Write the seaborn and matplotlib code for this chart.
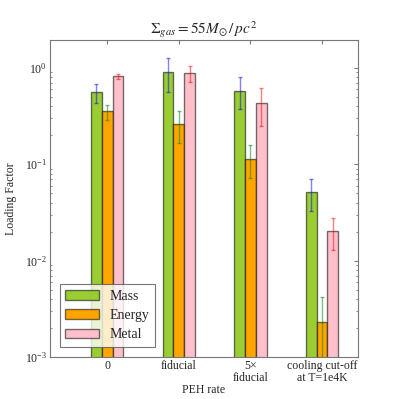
import numpy as np
import pandas as pd
import matplotlib
matplotlib.use("Agg")
import matplotlib.pyplot as plt
import seaborn as sns

# values
categories = ["0", "fiducial", "5\u00d7\nfiducial", "cooling cut-off\nat T=1e4K"]
series = ["Mass", "Energy", "Metal"]

mass = [0.56, 0.90, 0.58, 0.051]
mass_lo = [0.43, 0.56, 0.37, 0.033]
mass_hi = [0.68, 1.26, 0.80, 0.070]

energy = [0.355, 0.26, 0.114, 0.0023]
energy_lo = [0.29, 0.165, 0.072, 0.0005]
energy_hi = [0.41, 0.357, 0.158, 0.0042]

metal = [0.82, 0.88, 0.43, 0.0205]
metal_lo = [0.77, 0.72, 0.25, 0.0128]
metal_hi = [0.86, 1.04, 0.62, 0.0279]

bar_colors = ["#9acd32", "#ffa500", "#ffc0cb"]
err_colors = ["blue", "green", "red"]

sns.set_style("white")
plt.rcParams["font.family"] = ["Liberation Serif", "DejaVu Serif"]
plt.rcParams["mathtext.fontset"] = "stix"

# long-form table for seaborn
df = pd.DataFrame({
    "rate": categories * 3,
    "kind": [s for s in series for _ in categories],
    "value": mass + energy + metal,
})
lows = [mass_lo, energy_lo, metal_lo]
highs = [mass_hi, energy_hi, metal_hi]
vals = [mass, energy, metal]

fig = plt.figure(figsize=(3.99, 3.99), dpi=100)
ax = fig.add_axes([0.125, 0.105, 0.772, 0.795])
ax.set_yscale("log")

sns.barplot(data=df, x="rate", y="value", hue="kind", order=categories,
            hue_order=series, palette=bar_colors, saturation=1, width=0.45,
            errorbar=None, edgecolor=(0, 0, 0, 0.55), linewidth=1.0, ax=ax)

# asymmetric error bars placed on the bar centres
for cont, v, lo, hi, ec in zip(ax.containers, vals, lows, highs, err_colors):
    xs = [p.get_x() + p.get_width() / 2 for p in cont.patches]
    v = np.array(v)
    yerr = [v - np.array(lo), np.array(hi) - v]
    ax.errorbar(xs, v, yerr=yerr, fmt="none", ecolor=ec, alpha=0.5,
                elinewidth=1.0, capsize=1.5, capthick=1.0)

ax.set_ylim(1e-3, 1.95)
ax.set_xlim(-0.8, 3.5)
ax.set_xlabel("PEH rate", fontsize=8.5, labelpad=0)
ax.set_ylabel("Loading Factor", fontsize=8.5, labelpad=6)
ax.set_title(r"$\Sigma_{gas} = 55 M_{\odot}\,/\,pc^2$", fontsize=11, pad=4)
ax.tick_params(axis="both", labelsize=8.5, direction="in", top=True,
               right=True, color="#777777", length=3, pad=2)
ax.tick_params(axis="y", which="minor", direction="in", right=True,
               left=True, color="#777777", length=1.5)
for lab in ax.get_xticklabels():
    lab.set_linespacing(1.0)
for s in ax.spines.values():
    s.set_color("#777777")

leg = ax.legend(loc="lower left", fontsize=10, frameon=True, fancybox=False,
                edgecolor="#555555", handlelength=2.4, borderpad=0.4,
                labelspacing=0.45, bbox_to_anchor=(0.01, 0.01))
leg.get_frame().set_linewidth(0.8)

fig.savefig("out.png", dpi=100)
